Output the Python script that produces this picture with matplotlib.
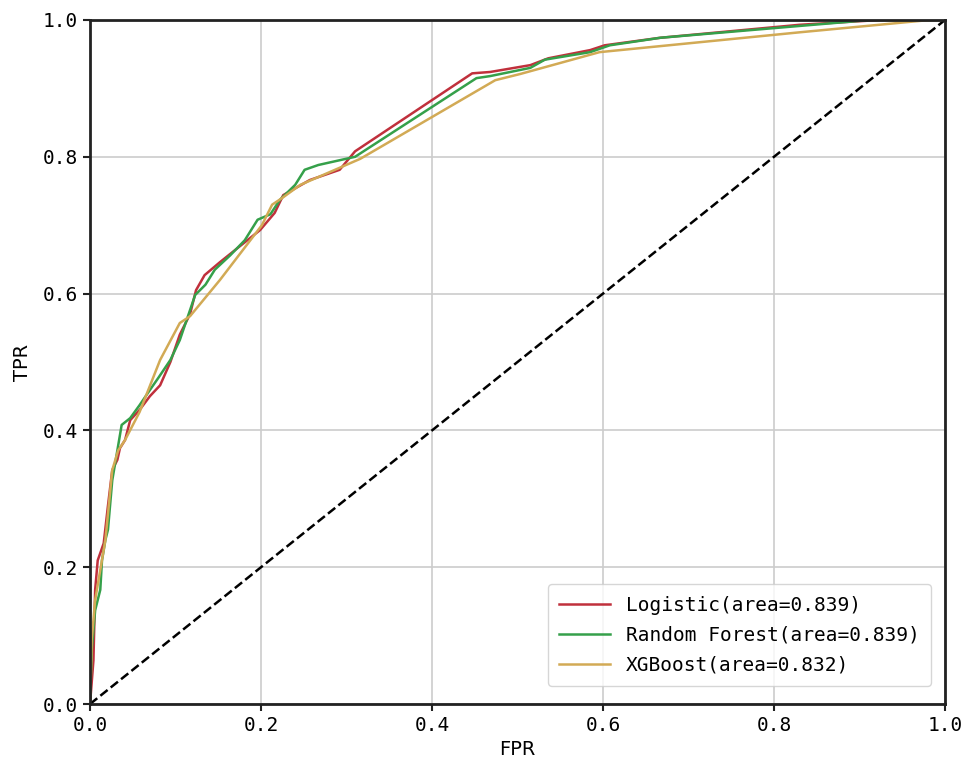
import matplotlib
matplotlib.use("Agg")
import matplotlib.pyplot as plt

# ROC curve points (FPR, TPR) for each model
logistic_fpr = [0.0, 0.004, 0.006, 0.009, 0.016, 0.021, 0.026, 0.032, 0.035, 0.041, 0.047,
                0.058, 0.070, 0.082, 0.094, 0.105, 0.117, 0.124, 0.134, 0.152, 0.170,
                0.199, 0.216, 0.226, 0.257, 0.292, 0.310, 0.447, 0.468, 0.515, 0.536,
                0.585, 0.602, 0.667, 0.830, 0.924, 1.0]
logistic_tpr = [0.0, 0.064, 0.167, 0.210, 0.235, 0.290, 0.342, 0.357, 0.374, 0.386, 0.415,
                0.430, 0.450, 0.466, 0.500, 0.540, 0.570, 0.605, 0.627, 0.646, 0.664,
                0.693, 0.718, 0.744, 0.766, 0.781, 0.808, 0.922, 0.924, 0.934, 0.944,
                0.956, 0.963, 0.974, 0.993, 1.0, 1.0]

forest_fpr = [0.0, 0.002, 0.006, 0.012, 0.014, 0.018, 0.021, 0.026, 0.032, 0.037, 0.047,
              0.058, 0.070, 0.080, 0.094, 0.105, 0.117, 0.123, 0.135, 0.146, 0.164,
              0.181, 0.196, 0.211, 0.222, 0.240, 0.251, 0.267, 0.292, 0.310, 0.452,
              0.468, 0.515, 0.532, 0.585, 0.608, 0.667, 0.912, 1.0]
forest_tpr = [0.0, 0.079, 0.137, 0.167, 0.210, 0.240, 0.255, 0.327, 0.371, 0.408, 0.418,
              0.437, 0.459, 0.477, 0.503, 0.532, 0.576, 0.598, 0.613, 0.635, 0.656,
              0.678, 0.708, 0.716, 0.737, 0.759, 0.781, 0.788, 0.795, 0.800, 0.915,
              0.918, 0.930, 0.942, 0.953, 0.963, 0.974, 1.0, 1.0]

xgb_fpr = [0.0, 0.002, 0.006, 0.012, 0.018, 0.026, 0.033, 0.041, 0.058, 0.082, 0.105,
           0.117, 0.152, 0.201, 0.213, 0.225, 0.246, 0.316, 0.474, 0.503, 0.596,
           0.830, 0.982, 1.0]
xgb_tpr = [0.0, 0.094, 0.152, 0.196, 0.240, 0.342, 0.371, 0.386, 0.427, 0.503, 0.557,
           0.567, 0.620, 0.700, 0.730, 0.740, 0.759, 0.797, 0.912, 0.921, 0.953,
           0.982, 1.0, 1.0]

labels = ["Logistic(area=0.839)", "Random Forest(area=0.839)", "XGBoost(area=0.832)"]
colors = ["#c0303c", "#35a04a", "#d2aa55"]

mono = "DejaVu Sans Mono"

fig = plt.figure(figsize=(9.69, 7.66), dpi=100)
ax = fig.add_axes([0.0929, 0.0809, 0.8823, 0.8930])

ax.grid(True, color="#cccccc", linewidth=1.2)
ax.set_axisbelow(True)

for fpr, tpr, lab, col in zip([logistic_fpr, forest_fpr, xgb_fpr],
                              [logistic_tpr, forest_tpr, xgb_tpr],
                              labels, colors):
    ax.plot(fpr, tpr, color=col, linewidth=1.8, label=lab)

ax.plot([0, 1], [0, 1], color="black", linestyle="--", linewidth=1.8)

ax.set_xlim(0, 1)
ax.set_ylim(0, 1)
ticks = [0.0, 0.2, 0.4, 0.6, 0.8, 1.0]
ax.set_xticks(ticks)
ax.set_yticks(ticks)
ax.set_xticklabels([f"{t:.1f}" for t in ticks], fontfamily=mono, fontsize=14)
ax.set_yticklabels([f"{t:.1f}" for t in ticks], fontfamily=mono, fontsize=14)
ax.tick_params(length=5, width=1.5, color="#222222")

for s in ax.spines.values():
    s.set_linewidth(2.0)
    s.set_color("#222222")

ax.set_xlabel("FPR", fontsize=14, labelpad=4)
ax.set_ylabel("TPR", fontsize=14, labelpad=8)

leg = ax.legend(loc="lower right", prop={"family": mono, "size": 14},
                handlelength=2.6, borderpad=0.6, labelspacing=0.55,
                framealpha=0.8, edgecolor="#cccccc", fancybox=True,
                bbox_to_anchor=(0.995, 0.012))

fig.savefig("out.png", dpi=100)
